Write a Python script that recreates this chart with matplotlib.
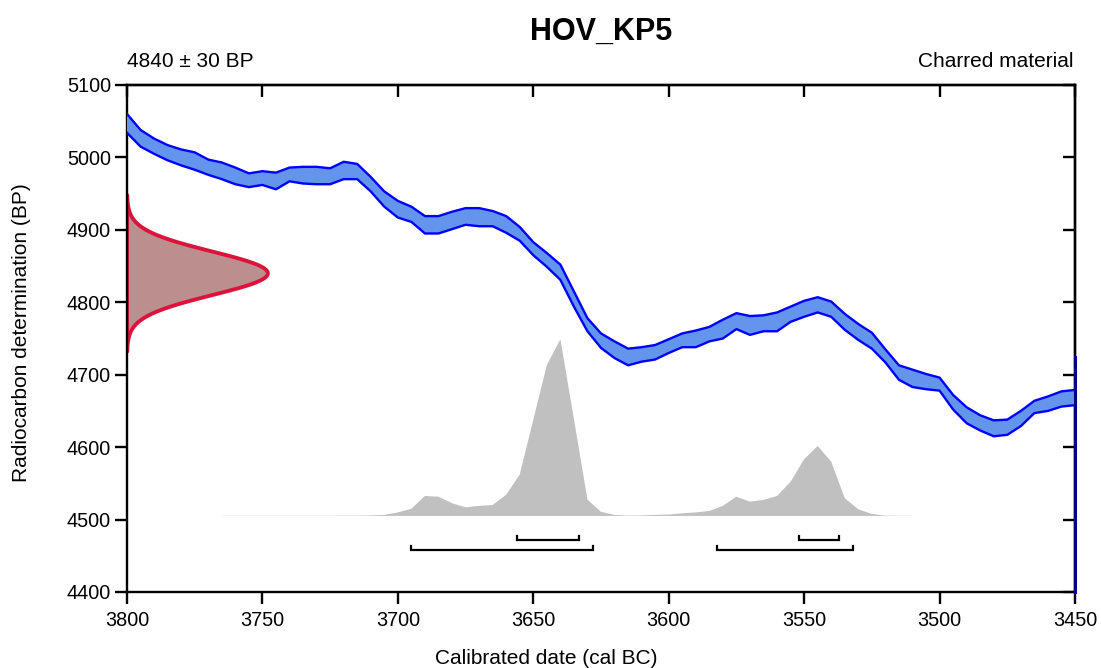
import numpy as np
import matplotlib
matplotlib.use("Agg")
import matplotlib.pyplot as plt

plt.rcParams['font.family'] = ['Liberation Sans', 'DejaVu Sans']

# ---------------- data ----------------
title = "HOV_KP5"
date_label = "4840 ± 30 BP"
material_label = "Charred material"
x_label = "Calibrated date (cal BC)"
y_label = "Radiocarbon determination (BP)"

# radiocarbon measurement
c14_mean = 4840
c14_err = 30

# calibration curve (5-year grid, 3800 -> 3450 cal BC)
curve_years = np.arange(3800, 3449, -5)
curve_upper = [5060, 5038, 5026, 5017, 5011, 5007, 4997, 4993, 4986, 4978,
               4981, 4979, 4986, 4987, 4987, 4985, 4994, 4991, 4973, 4953,
               4940, 4932, 4919, 4919, 4925, 4930, 4930, 4926, 4919, 4904,
               4883, 4868, 4852, 4815, 4778, 4757, 4746, 4736, 4738, 4741,
               4749, 4757, 4761, 4766, 4776, 4785, 4781, 4782, 4786, 4794,
               4802, 4807, 4801, 4784, 4770, 4758, 4735, 4713, 4707, 4701,
               4696, 4672, 4655, 4644, 4637, 4638, 4650, 4664, 4670, 4677,
               4679]
curve_lower = [5034, 5015, 5005, 4996, 4989, 4983, 4976, 4970, 4963, 4959,
               4962, 4956, 4967, 4964, 4963, 4963, 4970, 4970, 4953, 4932,
               4917, 4911, 4895, 4895, 4901, 4907, 4905, 4905, 4896, 4885,
               4865, 4849, 4831, 4794, 4760, 4737, 4723, 4713, 4718, 4721,
               4730, 4738, 4738, 4746, 4750, 4763, 4755, 4760, 4760, 4773,
               4780, 4786, 4780, 4762, 4748, 4736, 4717, 4693, 4683, 4680,
               4678, 4652, 4633, 4623, 4615, 4617, 4629, 4647, 4650, 4656,
               4658]

# calibrated probability (relative, 5-year grid 3765 -> 3510 cal BC)
prob_years = np.arange(3765, 3509, -5)
prob = [0.001, 0.001, 0.001, 0.001, 0.001, 0.001, 0.001, 0.001, 0.001, 0.002,
        0.002, 0.003, 0.006, 0.020, 0.041, 0.113, 0.109, 0.072, 0.049, 0.057,
        0.062, 0.120, 0.235, 0.543, 0.854, 1.000, 0.549, 0.092, 0.023, 0.006,
        0.002, 0.003, 0.006, 0.008, 0.015, 0.020, 0.028, 0.057, 0.109, 0.081,
        0.091, 0.113, 0.194, 0.321, 0.396, 0.307, 0.100, 0.038, 0.011, 0.002,
        0.001, 0.001]

# highest posterior density ranges (cal BC)
range_68 = [(3656, 3633), (3552, 3537)]
range_95 = [(3695, 3628), (3582, 3532)]

x_ticks = list(range(3800, 3449, -50))
y_ticks = list(range(4400, 5101, 100))

# ---------------- styling / layout ----------------
W, H = 1101, 668
fig = plt.figure(figsize=(W / 100, H / 100), dpi=100)
L, R, T, B = 127, 1075, 85, 592
ax = fig.add_axes([L / W, 1 - B / H, (R - L) / W, (B - T) / H])
ax.set_xlim(3800, 3450)
ax.set_ylim(4400, 5100)

spine_lw = 1.7
for s in ax.spines.values():
    s.set_linewidth(spine_lw)
    s.set_color('black')

ax.set_xticks(x_ticks)
ax.set_yticks(y_ticks)
ax.tick_params(axis='both', direction='out', length=8.6, width=spine_lw,
               labelsize=14.3, color='black')
ax.tick_params(axis='x', pad=5)
ax.tick_params(axis='y', pad=3)

secx = ax.secondary_xaxis('top')
secx.set_xticks(x_ticks)
secx.tick_params(axis='x', direction='in', length=8.6, width=spine_lw,
                 labeltop=False, labelbottom=False)
secx.spines['top'].set_linewidth(spine_lw)
secy = ax.secondary_yaxis('right')
secy.set_yticks(y_ticks)
secy.tick_params(axis='y', direction='in', length=8.6, width=spine_lw,
                 labelright=False, labelleft=False)
secy.spines['right'].set_linewidth(spine_lw)

# calibration curve band
ax.fill_between(curve_years, curve_lower, curve_upper, facecolor='#6495ED',
                edgecolor='none', zorder=3)
ax.plot(curve_years, curve_upper, color='#0000FF', lw=1.7, zorder=4)
ax.plot(curve_years, curve_lower, color='#0000FF', lw=1.7, zorder=4)
ax.plot([3450, 3450], [4400, curve_lower[-1] + 67], color='#00008B', lw=2.2,
        zorder=6, clip_on=False)

# radiocarbon measurement distribution on the y axis
bp = np.linspace(c14_mean - 3.6 * c14_err, c14_mean + 3.6 * c14_err, 400)
amp = 52
gx = 3800 - amp * np.exp(-0.5 * ((bp - c14_mean) / c14_err) ** 2)
ax.fill(np.concatenate([gx, [3800, 3800]]),
        np.concatenate([bp, [bp[-1], bp[0]]]),
        facecolor='#BC8F8F', edgecolor='#DC143C', lw=2.8, zorder=2,
        joinstyle='round')

# calibrated distribution
base = 4505
scale = 244
ax.fill_between(prob_years, base, base + np.array(prob) * scale,
                facecolor='#C0C0C0', edgecolor='none', zorder=1)

# ranges
def bracket(r, y, tick=6):
    for a, b in r:
        ax.plot([a, a, b, b], [y + tick, y, y, y + tick], color='black',
                lw=1.6, solid_joinstyle='miter', zorder=5)

bracket(range_68, 4472)
bracket(range_95, 4458)

# texts
fig.text(601 / W, 1 - 40 / H, title, ha='center', va='baseline',
         fontsize=22, fontweight='bold')
fig.text(L / W, 1 - 67.3 / H, date_label, ha='left', va='baseline', fontsize=15)
fig.text(1073.5 / W, 1 - 67.3 / H, material_label, ha='right', va='baseline',
         fontsize=15)
fig.text(546 / W, 1 - 659 / H, x_label, ha='center', va='center', fontsize=15)
fig.text(22 / W, 1 - 333 / H, y_label, ha='center', va='center', fontsize=15,
         rotation=90)

fig.savefig('out.png', dpi=100)
